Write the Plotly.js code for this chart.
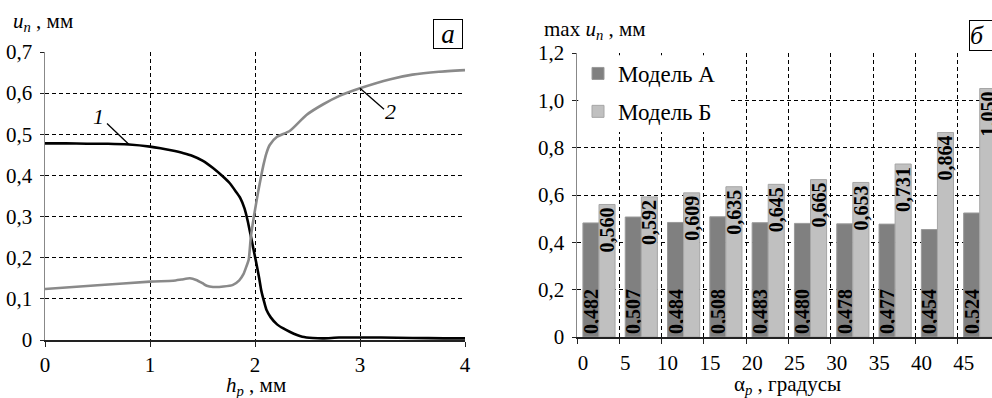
<!DOCTYPE html>
<html>
<head>
<meta charset="utf-8">
<script src="https://cdn.plot.ly/plotly-3.0.1.min.js"></script>
<style>html,body{margin:0;padding:0;background:#fff;overflow:hidden;}#chart{width:992px;height:398px;}</style>
</head>
<body>
<div id="chart"></div>
<script>
// ---- Panel а: u_n vs h_p ----
const curve1X = [0, 0.2, 0.4, 0.6, 0.8, 1.0, 1.1, 1.2, 1.32, 1.4, 1.5, 1.6, 1.7, 1.76, 1.82, 1.86, 1.9, 1.93, 1.96, 1.99, 2.01, 2.04, 2.06, 2.09, 2.11, 2.15, 2.21, 2.27, 2.33, 2.4, 2.45, 2.55, 2.65, 2.8, 3.0, 3.2, 3.5, 3.8, 4.0];
const curve1Y = [0.478, 0.478, 0.477, 0.477, 0.475, 0.470, 0.466, 0.461, 0.454, 0.448, 0.436, 0.418, 0.396, 0.381, 0.360, 0.345, 0.320, 0.290, 0.253, 0.215, 0.190, 0.150, 0.120, 0.090, 0.073, 0.055, 0.038, 0.028, 0.020, 0.012, 0.008, 0.005, 0.004, 0.006, 0.006, 0.006, 0.005, 0.004, 0.004];
const curve2X = [0, 0.5, 1.0, 1.22, 1.3, 1.38, 1.44, 1.5, 1.54, 1.6, 1.7, 1.79, 1.85, 1.89, 1.92, 1.94, 1.96, 1.98, 2.0, 2.03, 2.06, 2.08, 2.11, 2.14, 2.21, 2.33, 2.49, 2.65, 2.81, 3.0, 3.29, 3.5, 3.75, 4.0];
const curve2Y = [0.124, 0.133, 0.142, 0.144, 0.147, 0.150, 0.146, 0.138, 0.132, 0.129, 0.130, 0.134, 0.145, 0.160, 0.180, 0.195, 0.250, 0.285, 0.316, 0.360, 0.400, 0.425, 0.455, 0.474, 0.494, 0.508, 0.547, 0.573, 0.594, 0.612, 0.634, 0.645, 0.652, 0.656];
const curveLabels = ["1", "2"];
const leftYTicks = [0, 0.1, 0.2, 0.3, 0.4, 0.5, 0.6, 0.7];
const leftYLabels = ["0", "0,1", "0,2", "0,3", "0,4", "0,5", "0,6", "0,7"];
const leftXTicks = [0, 1, 2, 3, 4];
const leftXLabels = ["0", "1", "2", "3", "4"];

// ---- Panel б: max u_n vs alpha_p ----
const alphaP = [0, 5, 10, 15, 20, 25, 30, 35, 40, 45];
const alphaLabels = ["0", "5", "10", "15", "20", "25", "30", "35", "40", "45"];
const modelA = [0.482, 0.507, 0.484, 0.508, 0.483, 0.480, 0.478, 0.477, 0.454, 0.524];
const modelB = [0.560, 0.592, 0.609, 0.635, 0.645, 0.665, 0.653, 0.731, 0.864, 1.050];
const seriesNames = ["Модель А", "Модель Б"];
const rightYTicks = [0, 0.2, 0.4, 0.6, 0.8, 1.0, 1.2];
const rightYLabels = ["0", "0,2", "0,4", "0,6", "0,8", "1,0", "1,2"];

const FONT = "Liberation Serif";
const W = 992, H = 398;
const px = v => v / W, py = v => 1 - v / H;

// leader-line anchor points (index into each curve)
const lead1 = 4;   // point of curve 1 near h_p = 0.8
const lead2 = 29;  // point of curve 2 at h_p = 3.0

const gridCommon = {
  showgrid: true, gridcolor: "#000", gridwidth: 1, griddash: "4px,3px",
  zeroline: false, ticks: "outside", tickcolor: "#222", tickwidth: 1,
  tickfont: {family: FONT, size: 21, color: "#000"}, fixedrange: true
};

const traces = [
  {x: curve1X, y: curve1Y, type: "scatter", mode: "lines", line: {color: "#000", width: 2.6, shape: "spline", smoothing: 0.6}, showlegend: false, xaxis: "x", yaxis: "y", hoverinfo: "skip"},
  {x: curve2X, y: curve2Y, type: "scatter", mode: "lines", line: {color: "#8a8a8a", width: 2.6, shape: "spline", smoothing: 0.6}, showlegend: false, xaxis: "x", yaxis: "y", hoverinfo: "skip"},
  {x: alphaP, y: modelA, type: "bar", name: seriesNames[0], legendgroup: "a", xaxis: "x2", yaxis: "y2",
   offset: 0.7, width: 1.9,
   marker: {color: "#808080", line: {color: "#9a9a9a", width: 1}},
   texttemplate: "%{y:.3f}", textposition: "inside", insidetextanchor: "start", textangle: -90, constraintext: "none",
   textfont: {family: FONT, size: 20, color: "#000", weight: "bold"}, hoverinfo: "skip"},
  {x: alphaP, y: modelB, type: "bar", name: seriesNames[1], legendgroup: "b", xaxis: "x2", yaxis: "y2",
   offset: 2.6, width: 1.9,
   marker: {color: "#c0c0c0", line: {color: "#a6a6a6", width: 1}},
   texttemplate: "%{y:.3f}", textposition: "inside", insidetextanchor: "end", textangle: -90, constraintext: "none",
   textfont: {family: FONT, size: 20, color: "#000", weight: "bold"}, hoverinfo: "skip"}
];

const layout = {
  width: W, height: H,
  margin: {l: 0, r: 0, t: 0, b: 0, pad: 0},
  paper_bgcolor: "#fff", plot_bgcolor: "#fff",
  separators: ", ",
  font: {family: FONT, size: 21, color: "#000"},
  barmode: "overlay",
  showlegend: true,
  legend: {x: px(578), y: py(52), xanchor: "left", yanchor: "top", bgcolor: "rgba(0,0,0,0)", borderwidth: 0,
           font: {family: FONT, size: 23, color: "#000"}, tracegroupgap: 5, itemwidth: 30, itemclick: false, itemdoubleclick: false},
  xaxis: Object.assign({}, gridCommon, {domain: [px(45), px(465)], range: [0, 4], anchor: "y",
    tickvals: leftXTicks, ticktext: leftXLabels, ticklen: 5, ticklabelstandoff: 0,
    showline: true, linecolor: "#222", linewidth: 1.5}),
  yaxis: Object.assign({}, gridCommon, {domain: [py(340), py(52)], range: [0, 0.7], anchor: "x",
    tickvals: leftYTicks, ticktext: leftYLabels, ticklen: 4, ticklabelstandoff: 3,
    showline: true, linecolor: "#888", linewidth: 1.5}),
  xaxis2: Object.assign({}, gridCommon, {domain: [px(577), 1], range: [0, 49.05], anchor: "y2",
    tickvals: alphaP, ticktext: alphaLabels, ticklen: 5, ticklabelshift: 6, ticklabelstandoff: 1,
    showline: true, linecolor: "#222", linewidth: 1.5}),
  yaxis2: Object.assign({}, gridCommon, {domain: [py(337), py(53)], range: [0, 1.2], anchor: "x2",
    tickvals: rightYTicks, ticktext: rightYLabels, ticklen: 4, ticklabelstandoff: 3,
    showline: true, linecolor: "#888", linewidth: 1.5}),
  shapes: [
    {type: "rect", xref: "x2", yref: "y2", x0: 0.15, x1: 17.9, y0: 0.866, y1: 1.19, layer: "between",
     fillcolor: "#fff", line: {width: 0}},
    {type: "line", xref: "x", yref: "y", xsizemode: "pixel", ysizemode: "pixel",
     xanchor: curve1X[lead1], yanchor: curve1Y[lead1], x0: 0, x1: -22, y0: 0, y1: 21,
     line: {color: "#000", width: 1.3}},
    {type: "line", xref: "x", yref: "y", xsizemode: "pixel", ysizemode: "pixel",
     xanchor: curve2X[lead2], yanchor: curve2Y[lead2], x0: 0, x1: 24, y0: 0, y1: -21,
     line: {color: "#000", width: 1.3}}
  ],
  annotations: [
    {xref: "paper", yref: "paper", x: px(11), y: py(22), xanchor: "left", yanchor: "middle", showarrow: false,
     text: "<i>u</i><sub><i>n</i></sub> , мм", font: {family: FONT, size: 21}},
    {xref: "paper", yref: "paper", x: px(542), y: py(30), xanchor: "left", yanchor: "middle", showarrow: false,
     text: "max <i>u</i><sub><i>n</i></sub> , мм", font: {family: FONT, size: 21}},
    {xref: "paper", yref: "paper", x: px(256), y: py(386), xanchor: "center", yanchor: "middle", showarrow: false,
     text: "<i>h</i><sub><i>p</i></sub> , мм", font: {family: FONT, size: 21}},
    {xref: "paper", yref: "paper", x: px(787), y: py(385), xanchor: "center", yanchor: "middle", showarrow: false,
     text: "α<sub><i>p</i></sub> , градусы", font: {family: FONT, size: 21}},
    {xref: "paper", yref: "paper", x: px(448), y: py(34), xanchor: "center", yanchor: "middle", showarrow: false,
     text: "<i>а</i>", font: {family: FONT, size: 27}, width: 28, height: 28, borderpad: 0,
     bordercolor: "#000", borderwidth: 1, bgcolor: "#fff"},
    {xref: "paper", yref: "paper", x: px(969), y: py(36), xanchor: "left", yanchor: "middle", showarrow: false,
     text: "<i>б</i>", font: {family: FONT, size: 26}, width: 30, height: 29, borderpad: 0, align: "left",
     bordercolor: "#000", borderwidth: 1, bgcolor: "#fff"},
    {xref: "x", yref: "y", x: curve1X[lead1], y: curve1Y[lead1], xshift: -31, yshift: 28, showarrow: false,
     text: "<i>" + curveLabels[0] + "</i>", font: {family: FONT, size: 22}},
    {xref: "x", yref: "y", x: curve2X[lead2], y: curve2Y[lead2], xshift: 30, yshift: -23, showarrow: false,
     text: "<i>" + curveLabels[1] + "</i>", font: {family: FONT, size: 22}}
  ]
};

Plotly.newPlot("chart", traces, layout, {staticPlot: true, displayModeBar: false});
</script>
</body>
</html>
